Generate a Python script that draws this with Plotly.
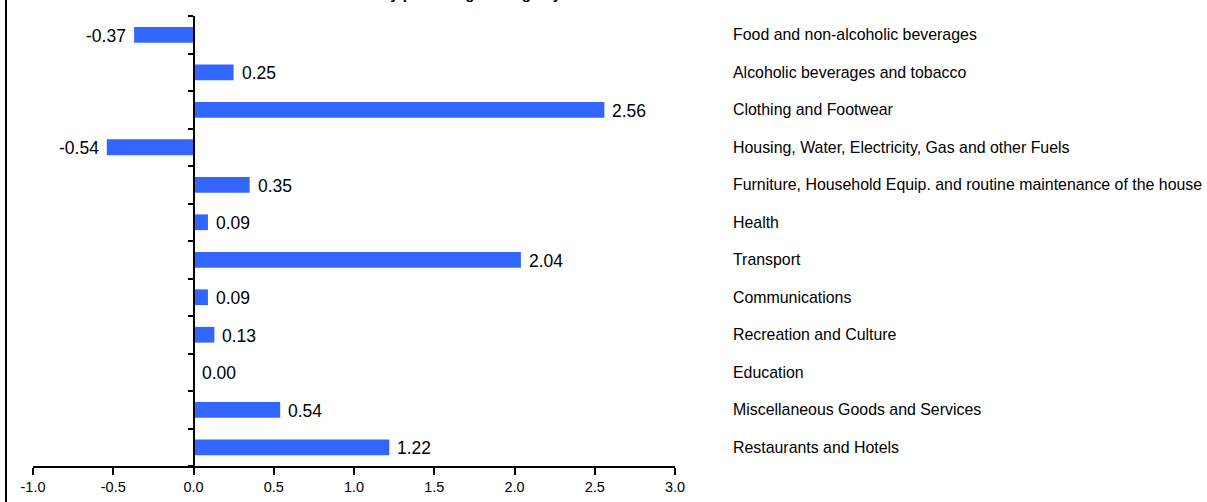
import plotly.graph_objects as go

categories = [
    "Food and non-alcoholic beverages",
    "Alcoholic beverages and tobacco",
    "Clothing and Footwear",
    "Housing, Water, Electricity, Gas and other Fuels",
    "Furniture, Household Equip. and routine maintenance of the house",
    "Health",
    "Transport",
    "Communications",
    "Recreation and Culture",
    "Education",
    "Miscellaneous Goods and Services",
    "Restaurants and Hotels",
]
values = [-0.37, 0.25, 2.56, -0.54, 0.35, 0.09, 2.04, 0.09, 0.13, 0.00, 0.54, 1.22]
x_ticks = [-1.0, -0.5, 0.0, 0.5, 1.0, 1.5, 2.0, 2.5, 3.0]
title_text = "Monthly percentage change by Division"

FONT = "Liberation Sans, Arial, sans-serif"

# plot-area geometry (pixels)
L, R, T, B = 33, 675, 16, 466
W, H = R - L, B - T
X_MIN, X_MAX = -1.0, 3.0

fig = go.Figure()
fig.add_trace(go.Bar(
    y=categories,
    x=values,
    orientation="h",
    marker=dict(color="#3366FF", line=dict(width=0)),
    width=0.42,
    showlegend=False,
    hoverinfo="x+y",
))

# value labels
for c, v in zip(categories, values):
    neg = v < 0
    fig.add_annotation(
        x=v, xref="x", y=c, yref="y",
        text=f"{v:.2f}", showarrow=False,
        xanchor="right" if neg else "left", yanchor="middle",
        xshift=-6 if neg else 6, yshift=-1,
        font=dict(family=FONT, size=17.5, color="#000000"),
    )

# category labels on the right
for c in categories:
    fig.add_annotation(
        x=1.0 + (733 - R) / W, xref="paper", xshift=-2,
        y=c, yref="y",
        text=c, showarrow=False,
        xanchor="left", yanchor="middle",
        font=dict(family=FONT, size=15.9, color="#000000"),
    )

# title, mostly clipped above the top edge (as in the reference)
fig.add_annotation(
    x=(626 - L) / W, xref="paper",
    y=1 + 11.5 / H, yref="paper", yanchor="bottom",
    text="<b>" + title_text + "</b>", showarrow=False,
    font=dict(family=FONT, size=15, color="#000000"),
)

# left frame line
fig.add_shape(type="line", xref="paper", yref="paper",
              x0=(6 - L) / W, x1=(6 - L) / W, y0=-0.2, y1=1.2,
              line=dict(color="#000000", width=2))

fig.update_layout(
    width=1207, height=502,
    template="none",
    margin=dict(l=L, r=1207 - R, t=T, b=502 - B, pad=0, autoexpand=False),
    paper_bgcolor="white", plot_bgcolor="white",
    font=dict(family=FONT, size=14, color="#000000"),
    xaxis=dict(
        range=[X_MIN, X_MAX], tickvals=x_ticks,
        ticktext=[f"{t:.1f}" for t in x_ticks],
        showgrid=False, zeroline=False, automargin=False,
        showline=True, linecolor="#000000", linewidth=2,
        ticks="outside", ticklen=7, tickwidth=2, tickcolor="#000000",
        tickfont=dict(family=FONT, size=14.5),
    ),
    yaxis=dict(
        categoryorder="array", categoryarray=categories[::-1],
        autorange=False, range=[-0.5, len(categories) - 0.5],
        showticklabels=False, showgrid=False, zeroline=False,
        automargin=False,
        anchor="free", position=(0 - X_MIN) / (X_MAX - X_MIN),
        showline=True, linecolor="#000000", linewidth=2,
        ticks="outside", tickson="boundaries", ticklen=5, tickwidth=2, tickcolor="#000000",
    ),
)

fig.write_html(
    "out.html",
    config={"responsive": False, "displayModeBar": False},
    post_script="document.body.style.margin='0';document.body.style.overflow='hidden';",
)
